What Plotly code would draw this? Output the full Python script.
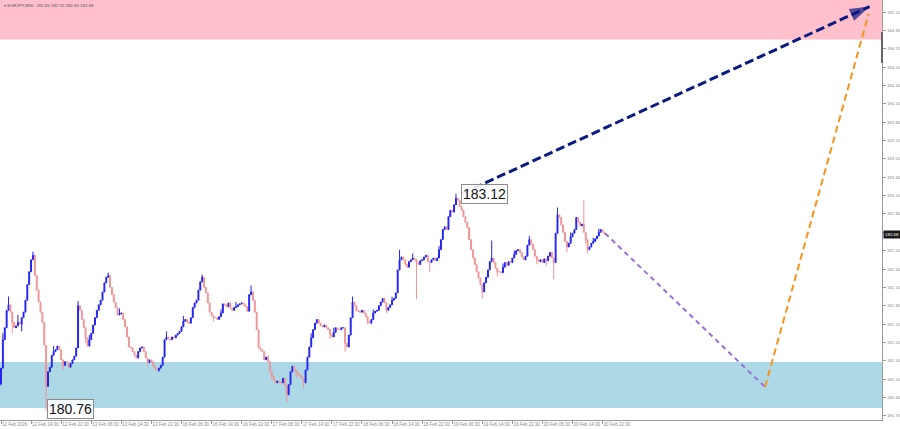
import plotly.graph_objects as go

# ---------------- data ----------------
SYMBOL_TITLE = "\u25be EURJPY,M30  182.65 182.70 182.66 182.68"

TICK_LABELS = ["12 Feb 2026", "12 Feb 14:30", "12 Feb 22:30", "13 Feb 06:30", "13 Feb 14:30",
               "13 Feb 22:30", "16 Feb 06:30", "16 Feb 14:30", "16 Feb 22:30", "17 Feb 06:30",
               "17 Feb 14:30", "17 Feb 22:30", "18 Feb 06:30", "18 Feb 14:30", "18 Feb 22:30",
               "19 Feb 06:30", "19 Feb 14:30", "19 Feb 22:30", "20 Feb 06:30", "20 Feb 14:30",
               "20 Feb 22:30"]
BARS_PER_LABEL = 16

PRICE_TICKS = [180.70, 180.90, 181.10, 181.30, 181.50, 181.70, 181.90, 182.10, 182.30, 182.50,
               182.70, 182.90, 183.10, 183.30, 183.50, 183.70, 183.90, 184.10, 184.30, 184.50,
               184.70, 184.90, 185.10]

FIRST_OPEN = 181.05
CLOSES = [
    181.22, 181.53, 181.66, 181.85, 181.91, 181.83, 181.72, 181.66, 181.68, 181.72,
    181.70, 181.77, 181.83, 181.96, 182.13, 182.27, 182.40, 182.45, 182.23, 182.07,
    181.94, 181.83, 181.72, 181.47, 181.02, 181.18, 181.23, 181.36, 181.40, 181.42,
    181.46, 181.42, 181.31, 181.25, 181.29, 181.28, 181.23, 181.27, 181.31, 181.35,
    181.44, 181.90, 181.85, 181.75, 181.66, 181.55, 181.46, 181.53, 181.60, 181.69,
    181.77, 181.85, 181.91, 181.96, 182.05, 182.15, 182.21, 182.23, 182.10, 182.02,
    181.94, 181.88, 181.80, 181.81, 181.82, 181.75, 181.67, 181.56, 181.45, 181.44,
    181.40, 181.36, 181.33, 181.40, 181.44, 181.45, 181.40, 181.33, 181.28, 181.31,
    181.29, 181.24, 181.21, 181.20, 181.22, 181.25, 181.34, 181.53, 181.56, 181.54,
    181.53, 181.56, 181.55, 181.58, 181.60, 181.62, 181.67, 181.73, 181.75, 181.72,
    181.71, 181.77, 181.88, 181.93, 181.96, 182.07, 182.16, 182.21, 182.10, 182.04,
    181.93, 181.83, 181.79, 181.77, 181.77, 181.75, 181.78, 181.82, 181.92, 181.91,
    181.89, 181.93, 181.87, 181.85, 181.88, 181.89, 181.91, 181.92, 181.93, 181.91,
    181.89, 181.84, 182.02, 182.05, 181.96, 181.83, 181.64, 181.44, 181.42, 181.40,
    181.31, 181.34, 181.29, 181.18, 181.13, 181.09, 181.06, 181.08, 181.07, 181.06,
    181.11, 181.03, 180.93, 181.04, 181.18, 181.24, 181.20, 181.17, 181.15, 181.13,
    181.11, 181.06, 181.20, 181.34, 181.45, 181.55, 181.64, 181.71, 181.75, 181.71,
    181.68, 181.67, 181.69, 181.66, 181.64, 181.59, 181.56, 181.61, 181.66, 181.64,
    181.64, 181.66, 181.66, 181.49, 181.45, 181.58, 181.77, 181.94, 181.90, 181.85,
    181.84, 181.83, 181.85, 181.82, 181.78, 181.73, 181.71, 181.75, 181.82, 181.84,
    181.85, 181.90, 181.94, 181.98, 181.93, 181.85, 181.88, 181.91, 181.96, 181.98,
    182.04, 182.29, 182.40, 182.43, 182.40, 182.35, 182.32, 182.38, 182.40, 182.42,
    182.40, 182.37, 182.35, 182.39, 182.40, 182.43, 182.45, 182.38, 182.37, 182.40,
    182.42, 182.39, 182.42, 182.51, 182.62, 182.73, 182.76, 182.73, 182.87, 182.94,
    182.92, 183.00, 183.07, 183.05, 182.98, 182.94, 182.87, 182.81, 182.75, 182.62,
    182.51, 182.42, 182.35, 182.27, 182.20, 182.13, 182.05, 182.15, 182.21, 182.29,
    182.38, 182.42, 182.37, 182.31, 182.27, 182.27, 182.26, 182.32, 182.37, 182.34,
    182.38, 182.37, 182.42, 182.46, 182.50, 182.51, 182.48, 182.43, 182.40, 182.44,
    182.56, 182.62, 182.57, 182.51, 182.44, 182.40, 182.38, 182.40, 182.37, 182.41,
    182.39, 182.44, 182.48, 182.42, 182.37, 182.69, 182.89, 182.86, 182.78, 182.70,
    182.60, 182.54, 182.58, 182.65, 182.69, 182.73, 182.86, 182.81, 182.77, 182.79,
    182.70, 182.62, 182.51, 182.54, 182.58, 182.60, 182.63, 182.66, 182.70, 182.73,
    182.70, 182.68,
]
# visible wick extremes (bar index -> price)
HIGH_WICKS = {1: 181.60, 4: 182.00, 9: 181.80, 17: 182.49, 28: 181.46, 41: 181.95,
              47: 181.58, 57: 182.26, 63: 181.87, 88: 181.62, 97: 181.79, 107: 182.24,
              117: 181.86, 125: 181.94, 133: 182.12, 142: 181.36, 165: 181.60, 177: 181.66,
              187: 182.00, 198: 181.86, 208: 182.00, 212: 182.51, 219: 182.47, 233: 182.55,
              242: 183.12, 261: 182.61, 267: 182.36, 273: 182.50, 281: 182.66, 296: 182.97,
              303: 182.70, 310: 183.05, 315: 182.64, 318: 182.74}
LOW_WICKS = {0: 181.03, 6: 181.60, 11: 181.62, 24: 180.76, 33: 181.20, 45: 181.50,
             78: 181.24, 84: 181.18, 113: 181.73, 144: 181.10, 152: 180.85, 157: 181.12,
             161: 181.00, 175: 181.54, 183: 181.40, 195: 181.70, 205: 181.82, 221: 181.97,
             228: 182.27, 256: 181.98, 264: 182.22, 285: 182.35, 290: 182.33, 294: 182.19,
             301: 182.48, 311: 182.58, 312: 182.47}

PINK_ZONE = (184.80, 185.24)
BLUE_ZONE = (180.786, 181.287)

LABEL_TEXTS = ["180.76", "183.12"]
LABEL_BARS = [24.5, 244.6]
LABEL_PRICES = [180.772, 183.113]

UP_ARROW_BARS = [245.0, 462.0]
UP_ARROW_PRICES = [183.12, 185.16]
DOWN_LEG_BARS = [321.3, 406.4]
DOWN_LEG_PRICES = [182.69, 181.015]
UP_LEG_BARS = [406.4, 461.5]
UP_LEG_PRICES = [181.015, 185.08]

LAST_PRICE = 182.68
X_RANGE = [-0.53, 468.6]
Y_RANGE = [180.655, 185.231]

# ---------------- build candles ----------------
bars = list(range(len(CLOSES)))
opens = [FIRST_OPEN] + CLOSES[:-1]
highs = [HIGH_WICKS.get(i, max(o, c)) for i, (o, c) in enumerate(zip(opens, CLOSES))]
lows = [LOW_WICKS.get(i, min(o, c)) for i, (o, c) in enumerate(zip(opens, CLOSES))]

fig = go.Figure()

fig.add_trace(go.Candlestick(
    x=bars, open=opens, high=highs, low=lows, close=CLOSES,
    increasing=dict(line=dict(color="#2323f0", width=1), fillcolor="#2323f0"),
    decreasing=dict(line=dict(color="#f19494", width=1), fillcolor="#f19494"),
    whiskerwidth=0, hoverinfo="skip", showlegend=False,
))

# projections
fig.add_trace(go.Scatter(x=DOWN_LEG_BARS, y=DOWN_LEG_PRICES, mode="lines",
                         line=dict(color="#9a6fd8", width=2, dash="5px,4px"),
                         hoverinfo="skip", showlegend=False))
fig.add_trace(go.Scatter(x=UP_LEG_BARS, y=UP_LEG_PRICES, mode="lines",
                         line=dict(color="#f7941d", width=2, dash="7px,4px"),
                         hoverinfo="skip", showlegend=False))
fig.add_trace(go.Scatter(x=UP_ARROW_BARS, y=UP_ARROW_PRICES, mode="lines",
                         line=dict(color="#0a1a80", width=3, dash="9px,4px"),
                         hoverinfo="skip", showlegend=False))
fig.add_trace(go.Scatter(x=UP_ARROW_BARS, y=UP_ARROW_PRICES, mode="markers",
                         marker=dict(symbol="arrow", size=[0, 21], color="#0a1a80",
                                     angleref="previous", line=dict(width=0)),
                         hoverinfo="skip", showlegend=False))

shapes = [
    dict(type="rect", xref="x domain", x0=0, x1=1, yref="y", y0=PINK_ZONE[0], y1=PINK_ZONE[1],
         fillcolor="#ffc0cb", line=dict(width=0), layer="below"),
    dict(type="rect", xref="x domain", x0=0, x1=1, yref="y", y0=BLUE_ZONE[0], y1=BLUE_ZONE[1],
         fillcolor="#add8e6", line=dict(width=0), layer="below"),
    dict(type="line", xref="x domain", x0=1.0, x1=1.0, yref="y domain", y0=0.85, y1=0.924,
         line=dict(color="#666666", width=2)),
]

annotations = [
    dict(xref="paper", yref="paper", x=0, y=1, xanchor="left", yanchor="top",
         xshift=2, yshift=-1, text=SYMBOL_TITLE, showarrow=False,
         font=dict(family="Liberation Sans", size=4.4, color="#555555")),
    dict(xref="paper", yref="y", x=1.0, y=LAST_PRICE, xanchor="left", yanchor="middle",
         xshift=1, text=f"{LAST_PRICE:.2f}", showarrow=False, bgcolor="#1a1a1a", borderpad=1,
         font=dict(family="Liberation Sans", size=4.4, color="#ffffff")),
]
for t, b, p in zip(LABEL_TEXTS, LABEL_BARS, LABEL_PRICES):
    annotations.append(dict(x=b, y=p, xref="x", yref="y", text=t, showarrow=False,
                            xanchor="left", yanchor="middle", bgcolor="rgba(255,255,255,0.9)",
                            bordercolor="#8c8c8c", borderwidth=1, borderpad=1,
                            font=dict(family="Liberation Sans", size=14, color="#111111")))

# the last-price tag covers the 182.70 label, as in the reference
y_text = ["" if abs(v - LAST_PRICE) < 0.05 else f"{v:.2f}" for v in PRICE_TICKS]

fig.update_layout(
    width=900, height=429,
    margin=dict(l=0, r=18, t=0, b=9),
    paper_bgcolor="white", plot_bgcolor="white",
    shapes=shapes, annotations=annotations,
    showlegend=False, hovermode=False,
    xaxis=dict(range=X_RANGE, rangeslider=dict(visible=False), showgrid=False, zeroline=False,
               automargin=False, tickangle=0,
               tickvals=[i * BARS_PER_LABEL for i in range(len(TICK_LABELS))],
               ticktext=TICK_LABELS, ticks="outside", ticklen=3, tickcolor="#999999",
               ticklabelposition="outside right",
               tickfont=dict(family="Liberation Sans", size=4.5, color="#8a8a8a"),
               showline=True, linecolor="#9a9a9a", linewidth=1, mirror=True),
    yaxis=dict(range=Y_RANGE, side="right", showgrid=False, zeroline=False,
               automargin=False,
               tickvals=PRICE_TICKS, ticktext=y_text,
               ticks="outside", ticklen=3, tickcolor="#999999",
               tickfont=dict(family="Liberation Sans", size=4.4, color="#8a8a8a"),
               showline=True, linecolor="#9a9a9a", linewidth=1, mirror=True),
)

fig.write_html("out.html", config={"displayModeBar": False, "staticPlot": True},
               post_script="document.body.style.margin='0px';document.body.style.overflow='hidden';")
